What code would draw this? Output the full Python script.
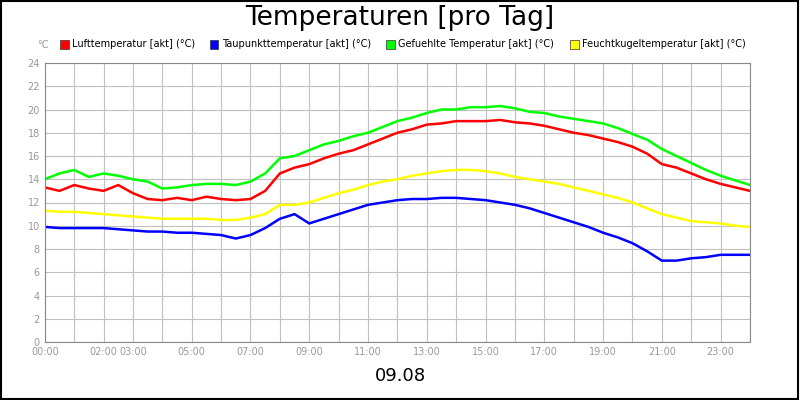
import numpy as np, pandas as pd, seaborn as sns, matplotlib
matplotlib.use("Agg")
import matplotlib.pyplot as plt
from matplotlib.patches import Rectangle

hours = [i*0.5 for i in range(49)]
luft = [13.3,13.0,13.5,13.2,13.0,13.5,12.8,12.3,12.2,12.4,12.2,12.5,12.3,12.2,12.3,13.0,14.5,15.0,15.3,15.8,16.2,16.5,17.0,17.5,18.0,18.3,18.7,18.8,19.0,19.0,19.0,19.1,18.9,18.8,18.6,18.3,18.0,17.8,17.5,17.2,16.8,16.2,15.3,15.0,14.5,14.0,13.6,13.3,13.0]
gef = [14.0,14.5,14.8,14.2,14.5,14.3,14.0,13.8,13.2,13.3,13.5,13.6,13.6,13.5,13.8,14.5,15.8,16.0,16.5,17.0,17.3,17.7,18.0,18.5,19.0,19.3,19.7,20.0,20.0,20.2,20.2,20.3,20.1,19.8,19.7,19.4,19.2,19.0,18.8,18.4,17.9,17.4,16.6,16.0,15.4,14.8,14.3,13.9,13.5]
feucht = [11.3,11.2,11.2,11.1,11.0,10.9,10.8,10.7,10.6,10.6,10.6,10.6,10.5,10.5,10.7,11.0,11.8,11.8,12.0,12.4,12.8,13.1,13.5,13.8,14.0,14.3,14.5,14.7,14.8,14.8,14.7,14.5,14.2,14.0,13.8,13.6,13.3,13.0,12.7,12.4,12.0,11.5,11.0,10.7,10.4,10.3,10.2,10.0,9.9]
taupunkt = [9.9,9.8,9.8,9.8,9.8,9.7,9.6,9.5,9.5,9.4,9.4,9.3,9.2,8.9,9.2,9.8,10.6,11.0,10.2,10.6,11.0,11.4,11.8,12.0,12.2,12.3,12.3,12.4,12.4,12.3,12.2,12.0,11.8,11.5,11.1,10.7,10.3,9.9,9.4,9.0,8.5,7.8,7.0,7.0,7.2,7.3,7.5,7.5,7.5]
series = ["Lufttemperatur [akt] (°C)","Taupunkttemperatur [akt] (°C)","Gefuehlte Temperatur [akt] (°C)","Feuchtkugeltemperatur [akt] (°C)"]
colors = ["#ff0000","#0000ff","#00ff00","#ffff00"]
tick_hours = [0,2,3,5,7,9,11,13,15,17,19,21,23]
tick_labels = [f"{h:02d}:00" for h in tick_hours]

df = pd.concat([pd.DataFrame({"h":hours,"v":v,"s":s}) for v,s in zip([luft,taupunkt,gef,feucht],series)])
fig = plt.figure(figsize=(8,4), dpi=100)
ax = fig.add_axes([0.056,0.145,0.8815,0.6975])
sns.lineplot(data=df, x="h", y="v", hue="s", palette=dict(zip(series,colors)), ax=ax, linewidth=1.8, legend=False)
ax.set_xlim(0,24); ax.set_ylim(0,24)
ax.set_xticks(range(25), minor=False)
ax.set_xticklabels([f"{h:02d}:00" if h in tick_hours else "" for h in range(25)])
ax.set_yticks(range(0,25,2))
ax.grid(True, color="#c0c0c0", linewidth=0.8)
ax.set_axisbelow(True)
ax.tick_params(labelsize=7, colors="#999999", length=0)
for sp in ax.spines.values(): sp.set_color("#888888")
ax.set_xlabel(""); ax.set_ylabel("")
fig.text(0.5,0.955,"Temperaturen [pro Tag]",ha="center",va="center",fontsize=19)
fig.text(0.047,0.88,"°C",fontsize=7,color="#999999")
xs = [0.075,0.262,0.483,0.713]
for x,s,c in zip(xs,series,colors):
    fig.patches.append(Rectangle((x,0.878),0.011,0.022,transform=fig.transFigure,facecolor=c,edgecolor="#333333",lw=0.5))
    fig.text(x+0.015,0.889,s,fontsize=7,va="center")
fig.text(0.5,0.06,"09.08",ha="center",va="center",fontsize=13)
fig.patches.append(Rectangle((0.001,0.002),0.997,0.996,transform=fig.transFigure,fill=False,edgecolor="black",lw=1.5))
fig.savefig("out.png", dpi=100)
